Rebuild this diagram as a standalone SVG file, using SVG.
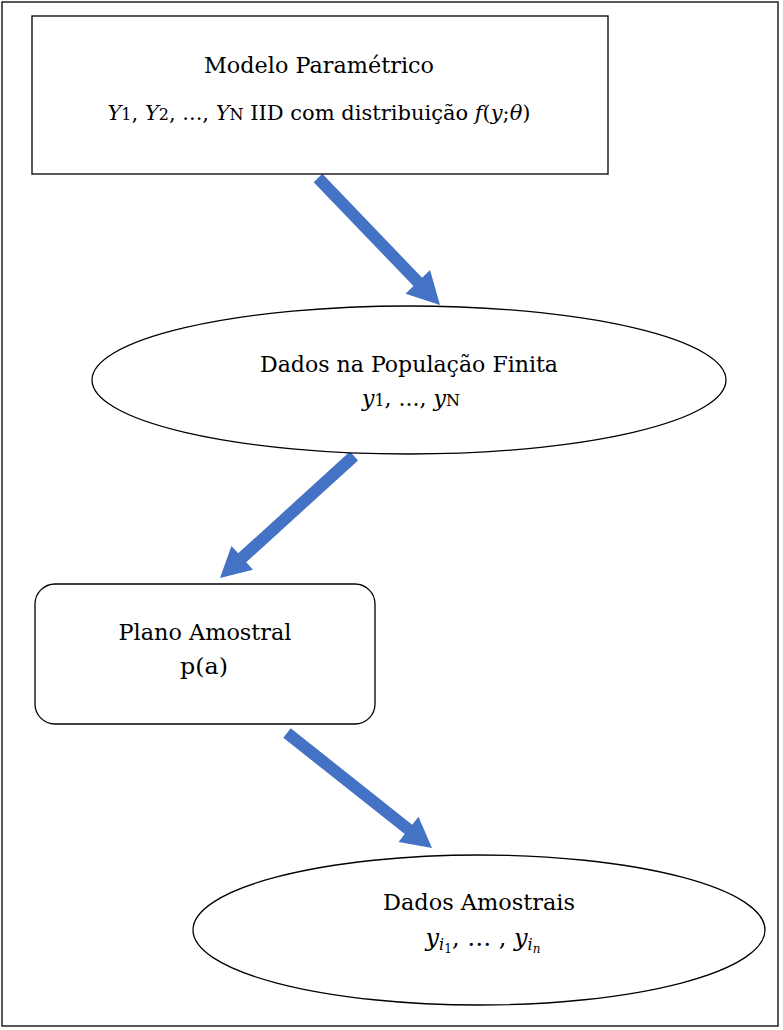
<svg xmlns="http://www.w3.org/2000/svg" width="783" height="1030" viewBox="0 0 783 1030">
<defs>
<style>
.shape{fill:#fff;stroke:#000;stroke-width:1.3}
.t{font-family:"DejaVu Serif","Liberation Serif",serif;font-size:22px;fill:#000;text-anchor:middle}
.h{font-size:23px}
.i{font-style:italic}
.arr{fill:#4472C4;stroke:none}
</style>
</defs>
<rect x="2" y="2" width="776" height="1024" fill="#fff" stroke="#000" stroke-width="1.3"/>
<g id="connectors">
<polygon class="arr" points="322.33,173.84 422.13,277.74 430.06,270.12 440,305 405.54,293.68 413.47,286.06 313.67,182.16"/>
<polygon class="arr" points="349.96,451.56 238.15,553.36 231.42,545.97 220,578 252.96,569.63 246.23,562.24 358.04,460.44"/>
<polygon class="arr" points="290.73,728.30 412.23,824.66 418.44,816.83 432,848 398.56,841.89 404.77,834.06 283.27,737.70"/>
</g>
<g id="node-modelo">
<rect class="shape" x="32" y="16" width="576" height="158"/>
<text class="t h" x="319" y="73" textLength="230" lengthAdjust="spacingAndGlyphs">Modelo Paramétrico</text>
<text class="t" x="319" y="120" style="font-size:21px"><tspan class="i">Y</tspan><tspan style="font-size:16px">1</tspan>, <tspan class="i">Y</tspan><tspan style="font-size:16px">2</tspan>, ..., <tspan class="i">Y</tspan><tspan style="font-size:16px">N</tspan> IID com distribuição <tspan class="i">f</tspan>(<tspan class="i">y</tspan>;<tspan class="i">θ</tspan>)</text>
</g>
<g id="node-populacao">
<ellipse class="shape" cx="409" cy="380" rx="317" ry="74"/>
<text class="t h" x="409" y="372" textLength="298" lengthAdjust="spacingAndGlyphs">Dados na População Finita</text>
<text class="t" x="411" y="406"><tspan class="i">y</tspan><tspan style="font-size:16px">1</tspan>, ..., <tspan class="i">y</tspan><tspan style="font-size:16px">N</tspan></text>
</g>
<g id="node-plano">
<rect class="shape" x="35" y="584" width="340" height="140" rx="20" ry="20"/>
<text class="t h" x="205" y="640" textLength="173" lengthAdjust="spacingAndGlyphs">Plano Amostral</text>
<text class="t h" x="204" y="674" textLength="48" lengthAdjust="spacingAndGlyphs">p(a)</text>
</g>
<g id="node-amostrais">
<ellipse class="shape" cx="479" cy="930" rx="286" ry="75"/>
<text class="t h" x="479" y="910" textLength="192" lengthAdjust="spacingAndGlyphs">Dados Amostrais</text>
<text class="t" x="483" y="946" style="font-size:24px"><tspan class="i">y</tspan><tspan class="i" style="font-size:16px" dy="4">i</tspan><tspan style="font-size:12px" dy="3">1</tspan><tspan dy="-7">, … , </tspan><tspan class="i">y</tspan><tspan class="i" style="font-size:16px" dy="4">i</tspan><tspan class="i" style="font-size:12px" dy="3">n</tspan></text>
</g>
</svg>
